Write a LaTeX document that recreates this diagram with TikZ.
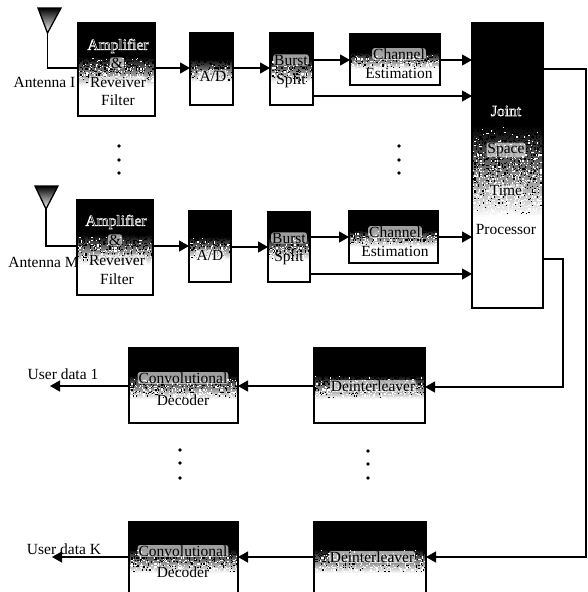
\documentclass[tikz,border=0pt]{standalone}
\usepackage{fontspec}
\setmainfont{Liberation Serif}
\usetikzlibrary{arrows.meta}
\tikzset{
  blockframe/.style={draw=black,line width=1.3pt,inner sep=0pt,outer sep=0pt,fill=none},
  conn/.style={draw=black,line width=1.3pt,-{Triangle[length=10pt,width=11pt]}},
  wire/.style={draw=black,line width=1.3pt},
  txt/.style={font=\fontsize{15.5}{15.5}\selectfont,inner sep=0pt,text=black},
  bandtxt/.style={txt,fill=white,fill opacity=0.62,text opacity=1,inner xsep=1pt,inner ysep=0.5pt,rounded corners=2.5pt},
  vdot/.style={circle,fill=black,inner sep=0pt,minimum size=3.6pt},
  dish/.style={draw=black,line width=1.3pt,line join=miter}
}
% black top, speckled fade, white bottom
\newcommand{\dither}[6]{% x0 y0 x1 y1 frac-start frac-end
  \pgfmathsetmacro\bh{#4-#2}
  \pgfmathsetmacro\ya{#2+#5*\bh}
  \pgfmathsetmacro\yb{#2+#6*\bh}
  \fill[white] (#1,#2) rectangle (#3,#4);
  \fill[black] (#1,#2) rectangle (#3,\ya);
  \shade[top color=black,middle color=gray!75,bottom color=white] (#1,\ya) rectangle (#3,\yb);
  \pgfmathsetmacro\yc{\ya+1.2}
  \pgfmathsetmacro\xc{#1+1.2}
  \pgfmathsetmacro\xd{#3-1.2}
  \pgfmathsetmacro\ye{\yb-1.2}
  \foreach \yy in {\ya,\yc,...,\ye}{
    \pgfmathsetmacro\tt{(\yy-\ya)/(\yb-\ya)}
    \foreach \xx in {#1,\xc,...,\xd}{
      \pgfmathsetmacro\rr{rnd}
      \ifdim\rr pt<0.3pt
        \pgfmathsetmacro\qq{rnd}
        \ifdim\qq pt<\tt pt
          \fill[white] (\xx,\yy) rectangle ++(1.2,1.2);
        \else
          \fill[black] (\xx,\yy) rectangle ++(1.2,1.2);
        \fi
      \fi
    }
  }
}
\newcommand{\blockat}[5]{% name x0 y0 x1 y1
  \dither{#2}{#3}{#4}{#5}{0.36}{0.68}
  \pgfmathsetmacro\cx{(#2+#4)/2}
  \pgfmathsetmacro\cy{(#3+#5)/2}
  \pgfmathsetmacro\ww{#4-#2}
  \pgfmathsetmacro\hh{#5-#3}
  \node[blockframe,minimum width=\ww pt,minimum height=\hh pt] (#1) at (\cx,\cy) {};
}
% one copy of the text, black fill with a white outline
\newcommand{\hl}[1]{\special{pdf:code 2 Tr 0.55 w 1 1 1 RG}#1\special{pdf:code 0 Tr 0 0 0 RG}}
\begin{document}
\begin{tikzpicture}[x=1pt,y=-1pt]
\pgfmathsetseed{4242}
\clip (0,0) rectangle (588,592);
\fill[white] (0,0) rectangle (588,592);

% blocks
\blockat{amp1}{78}{23}{155}{116}
\blockat{ad1}{190}{33}{233}{105}
\blockat{bs1}{270}{33}{313}{105}
\blockat{ce1}{350}{34}{440}{85}
\blockat{jst}{472}{23}{543}{308}
\blockat{amp2}{77}{200}{153}{295}
\blockat{ad2}{189}{211}{231}{282}
\blockat{bs2}{268}{212}{310}{282}
\blockat{ce2}{349}{211}{438}{263}
\blockat{cd1}{129}{348}{238}{423}
\blockat{di1}{314}{348}{425}{423}
\blockat{cd2}{129}{522}{238}{597}
\blockat{di2}{314}{522}{426}{597}

% antennas
\coordinate (ant1) at (47.5,33);
\coordinate (ant2) at (46,209);
\shade[top color=black,bottom color=white,middle color=gray] (38,8) -- (61,8) -- (ant1) -- cycle;
\shade[top color=black,bottom color=white,middle color=gray] (35,186) -- (58,186) -- (ant2) -- cycle;
\draw[dish] (38,8) -- (61,8) -- (ant1) -- cycle;
\draw[dish] (35,186) -- (58,186) -- (ant2) -- cycle;
\draw[wire] (ant1) |- (amp1.west|-0,68);
\draw[wire] (ant2) |- (amp2.west|-0,246);

% connectors, first branch
\draw[conn] (amp1.east|-0,68) -- (ad1.west|-0,68);
\draw[conn] (ad1.east|-0,68) -- (bs1.west|-0,68);
\draw[conn] (bs1.east|-0,60) -- (ce1.west|-0,60);
\draw[conn] (ce1.east|-0,60) -- (jst.west|-0,60);
\draw[conn] (bs1.east|-0,96) -- (jst.west|-0,96);
% connectors, second branch
\draw[conn] (amp2.east|-0,246) -- (ad2.west|-0,246);
\draw[conn] (ad2.east|-0,247) -- (bs2.west|-0,247);
\draw[conn] (bs2.east|-0,237) -- (ce2.west|-0,237);
\draw[conn] (ce2.east|-0,237) -- (jst.west|-0,237);
\draw[conn] (bs2.east|-0,274) -- (jst.west|-0,274);
% feedback
\draw[conn] (jst.east|-0,69) -- (586,69) -- (586,557) -- (di2.east|-0,557);
\draw[conn] (jst.east|-0,259) -- (563,259) -- (563,387) -- (di1.east|-0,387);
\draw[conn] (di1.west|-0,386) -- (cd1.east|-0,386);
\draw[conn] (di2.west|-0,557) -- (cd2.east|-0,557);
\coordinate (out1) at (50,386);
\coordinate (out2) at (52,557);
\draw[conn] (cd1.west|-0,386) -- (out1);
\draw[conn] (cd2.west|-0,557) -- (out2);

% dots
\foreach \n/\x/\y in {a/119/146,b/119/160,c/119/173,d/399/146,e/399/160,f/399/173,g/180/450,h/180/463,i/180/478,j/368/451,k/368/464,l/368/478}
  \node[vdot] (dot\n) at (\x,\y) {};

% labels
\node[txt] (lant1) at (44.5,82) {Antenna I};
\node[txt] (lant2) at (43.5,262) {Antenna M};
\node[txt] (luser1) at (63,374) {User data 1};
\node[txt] (luserk) at (64,549.5) {User data K};

\node[txt] (t1) at (118,46) {\hl{Amplifier}};
\node[bandtxt] (t2) at (117,63) {\&};
\node[bandtxt] (t3) at (118,82) {Reveiver};
\node[txt] (t4) at (118,100) {Filter};
\node[bandtxt] (t5) at (213,76) {A/D};
\node[bandtxt] (t6) at (291,60) {Burst};
\node[txt] (t7) at (291,81) {Split};
\node[bandtxt] (t8) at (399,54) {Channel};
\node[txt] (t9) at (399,73) {Estimation};

\node[txt] (t10) at (116,222) {\hl{Amplifier}};
\node[bandtxt] (t11) at (115,240) {\&};
\node[bandtxt] (t12) at (117,260) {Reveiver};
\node[txt] (t13) at (117,279) {Filter};
\node[bandtxt] (t14) at (210,255) {A/D};
\node[bandtxt] (t15) at (289,238) {Burst};
\node[txt] (t16) at (289,258) {Split};
\node[bandtxt] (t17) at (395,232) {Channel};
\node[txt] (t18) at (395,251) {Estimation};

\node[txt] (t19) at (506,111) {\hl{Joint}};
\node[bandtxt] (t20) at (506,150) {Space};
\node[bandtxt] (t21) at (506,190) {Time};
\node[txt] (t22) at (506,229) {Processor};

\node[bandtxt] (t23) at (183,378) {Convolutional};
\node[txt] (t24) at (183,400) {Decoder};
\node[bandtxt] (t25) at (183,551) {Convolutional};
\node[txt] (t26) at (183,572) {Decoder};
\node[bandtxt] (t27) at (373,386) {Deinterleaver};
\node[bandtxt] (t28) at (372,557) {Deinterleaver};
\end{tikzpicture}
\end{document}
